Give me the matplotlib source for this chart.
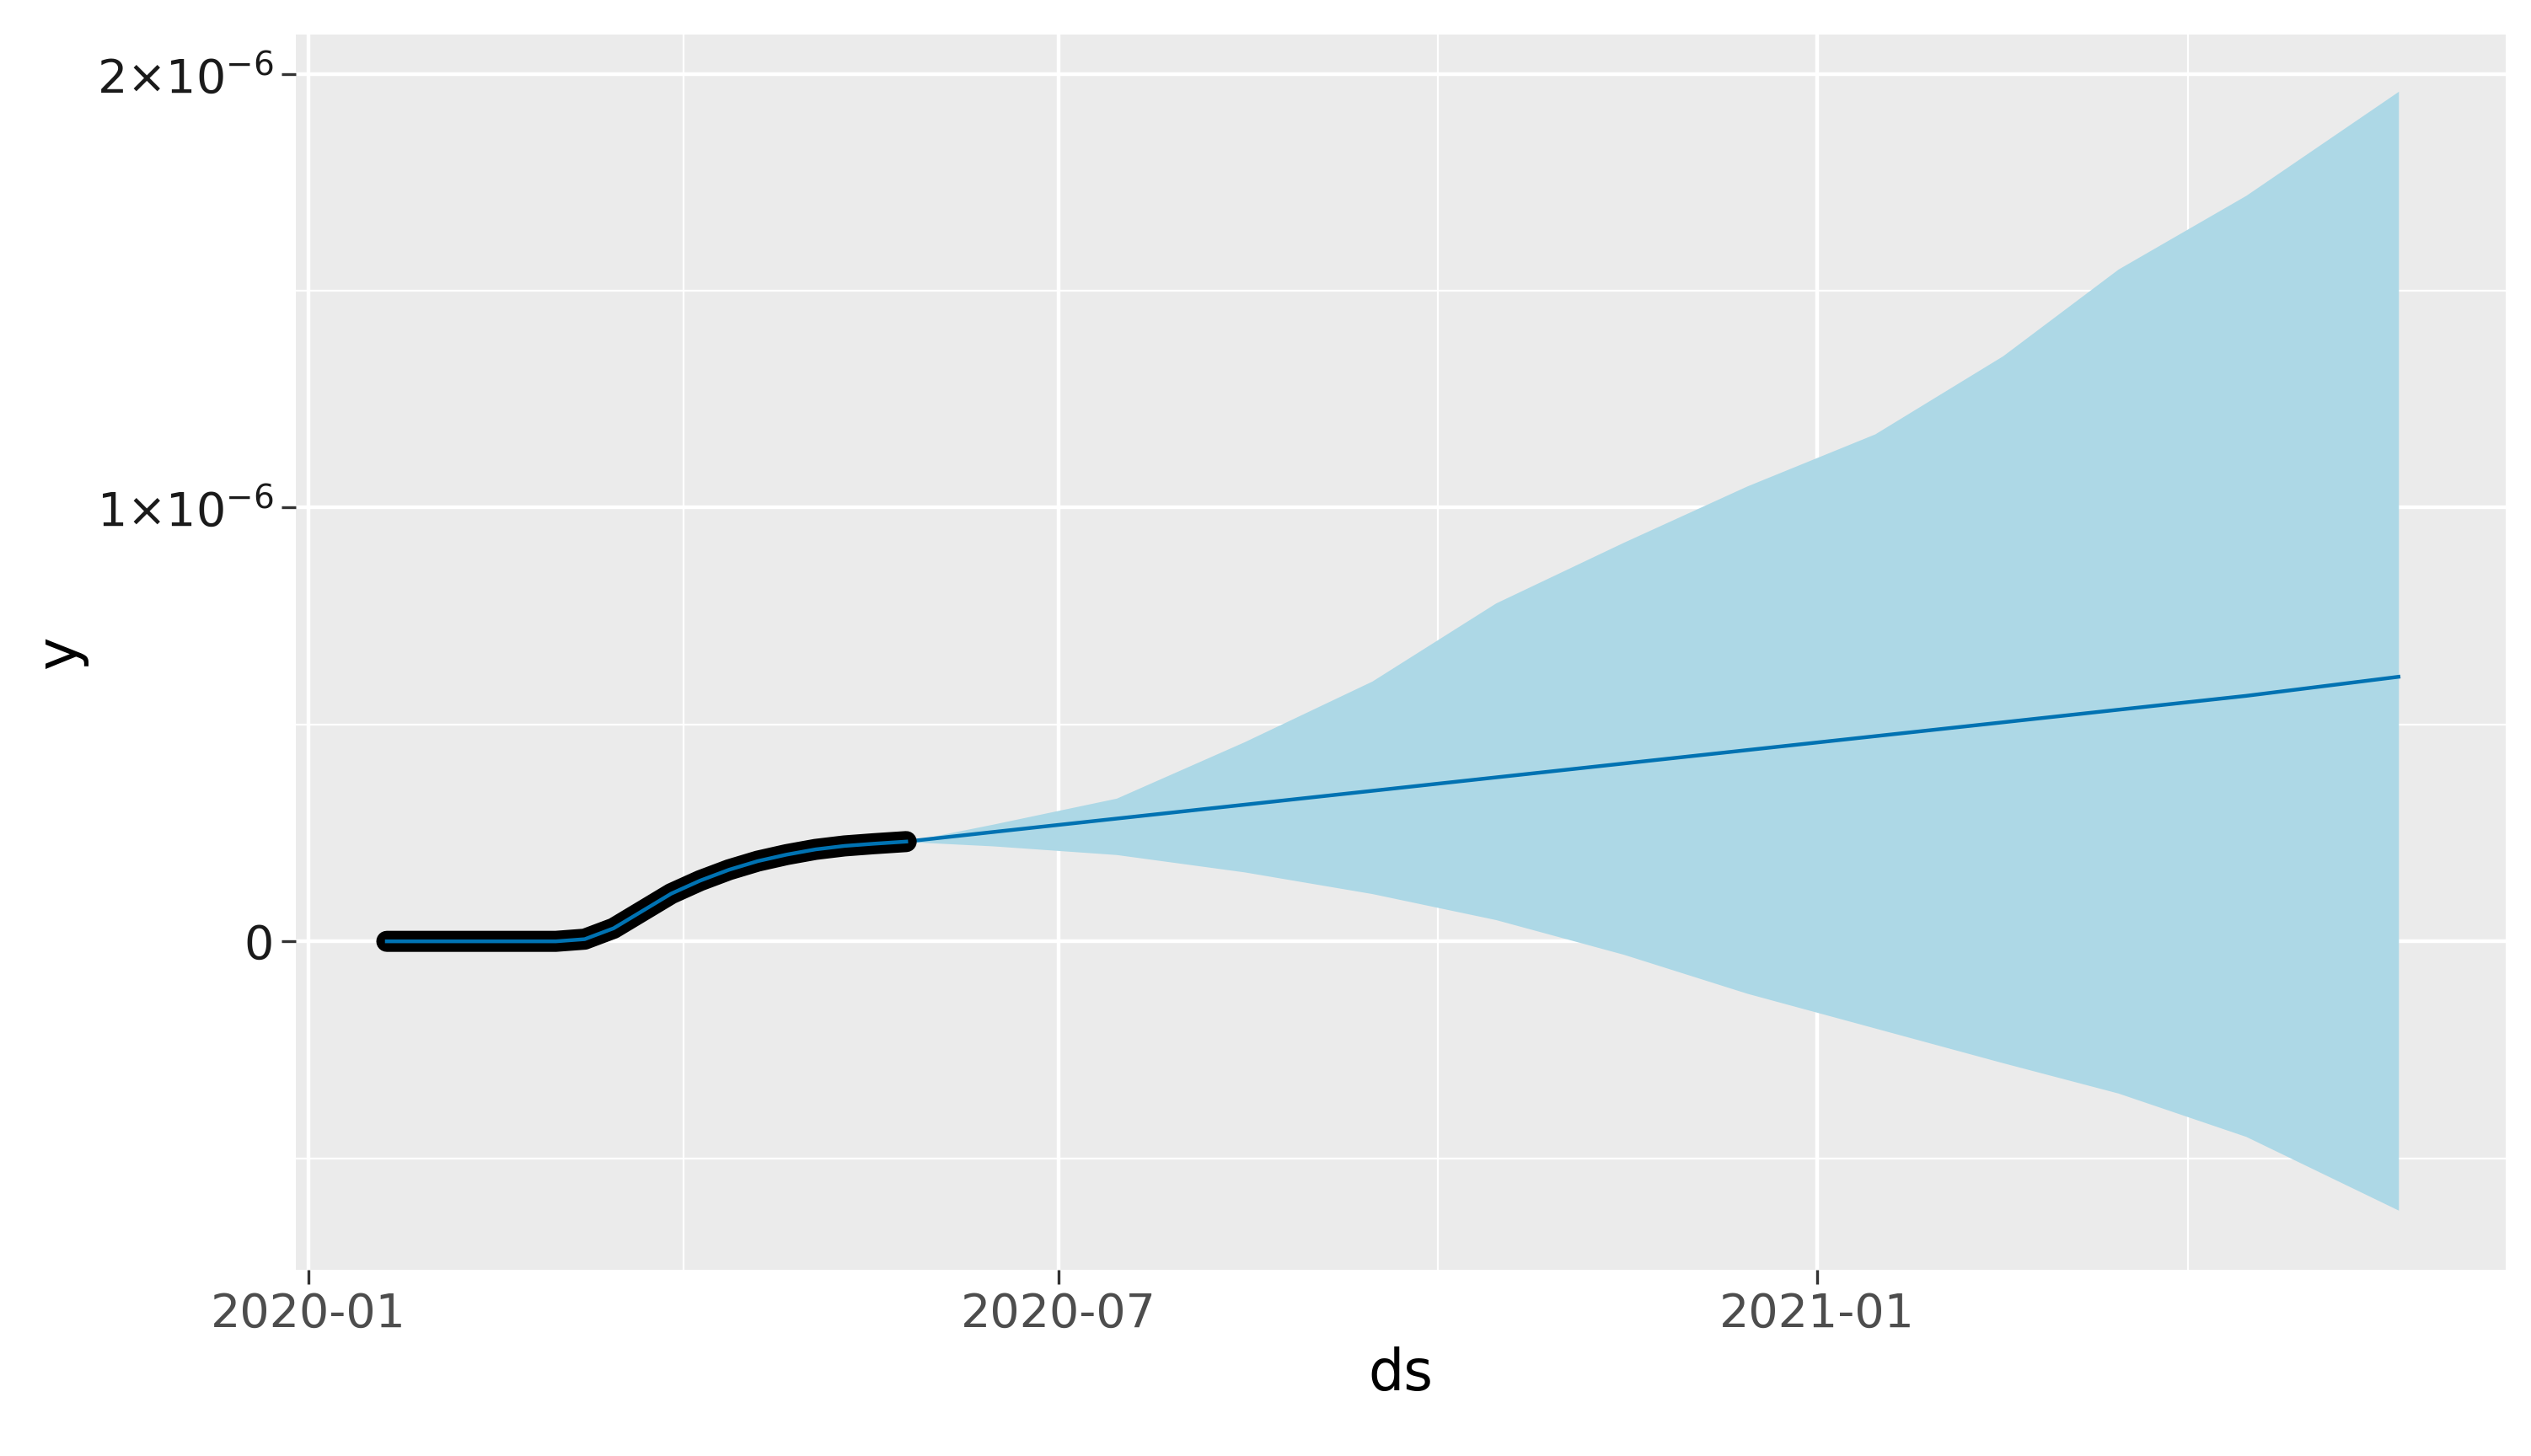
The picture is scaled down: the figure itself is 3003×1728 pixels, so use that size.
import matplotlib
matplotlib.use("Agg")
import matplotlib.pyplot as plt
import matplotlib.dates as mdates
import numpy as np
import pandas as pd

# history (observed)
hist_dates = pd.to_datetime(["2020-01-20", "2020-02-10", "2020-03-01", "2020-03-08",
                             "2020-03-15", "2020-03-22", "2020-03-29", "2020-04-05",
                             "2020-04-12", "2020-04-19", "2020-04-26", "2020-05-03",
                             "2020-05-10", "2020-05-17", "2020-05-25"])
hist_y = np.array([0.0, 0.0, 0.0, 0.005, 0.03, 0.07, 0.11, 0.14, 0.165, 0.185,
                   0.20, 0.212, 0.22, 0.225, 0.23]) * 1e-6

# forecast
fc_dates = pd.to_datetime(["2020-05-25", "2020-06-15", "2020-07-15", "2020-08-15",
                           "2020-09-15", "2020-10-15", "2020-11-15", "2020-12-15",
                           "2021-01-15", "2021-02-15", "2021-03-15", "2021-04-15",
                           "2021-05-22"])
fc_upper = np.array([0.23, 0.27, 0.33, 0.46, 0.60, 0.78, 0.92, 1.05, 1.17,
                     1.35, 1.55, 1.72, 1.96]) * 1e-6
fc_lower = np.array([0.23, 0.22, 0.20, 0.16, 0.11, 0.05, -0.03, -0.12, -0.20,
                     -0.28, -0.35, -0.45, -0.62]) * 1e-6
fc_trend = np.array([0.23, 0.252, 0.283, 0.315, 0.347, 0.378, 0.41, 0.441,
                     0.473, 0.505, 0.534, 0.566, 0.61]) * 1e-6

fig = plt.figure(figsize=(15.015, 8.64), dpi=200)
ax = fig.add_axes([0.117, 0.128, 0.873, 0.848])
ax.set_facecolor("#EBEBEB")

ax.fill_between(fc_dates, fc_lower, fc_upper, color="#ADD8E6", lw=0, zorder=2)
ax.plot(fc_dates, fc_trend, color="#0072B2", lw=1.6, zorder=3)
ax.plot(hist_dates, hist_y, color="black", lw=9, solid_capstyle="round", zorder=4)
ax.plot(hist_dates, hist_y, color="#0072B2", lw=1.6, zorder=5)

ax.set_xlim(pd.Timestamp("2019-12-29"), pd.Timestamp("2021-06-17"))
ax.set_ylim(-0.757e-6, 2.09e-6)

ax.set_xticks(pd.to_datetime(["2020-01-01", "2020-07-01", "2021-01-01"]))
ax.xaxis.set_major_formatter(mdates.DateFormatter("%Y-%m"))
ax.set_xticks(pd.to_datetime(["2020-04-01", "2020-10-01", "2021-04-01"]), minor=True)
ax.set_yticks([0, 1e-6, 2e-6])
ax.set_yticklabels(["0", r"$1{\times}10^{-6}$", r"$2{\times}10^{-6}$"])
ax.set_yticks([-0.5e-6, 0.5e-6, 1.5e-6], minor=True)

ax.grid(which="major", color="white", lw=1.6, zorder=1)
ax.grid(which="minor", color="white", lw=0.8, zorder=1)
ax.set_axisbelow(True)
for s in ax.spines.values():
    s.set_visible(False)
ax.tick_params(which="major", length=6, width=1.2, color="#333333",
               labelsize=20, labelcolor="#4D4D4D")
ax.tick_params(axis="y", labelcolor="#1a1a1a")
ax.tick_params(which="minor", length=0)

ax.set_xlabel("ds", fontsize=24)
ax.set_ylabel("y", fontsize=24)

fig.savefig("out.png", dpi=200, facecolor="white")
